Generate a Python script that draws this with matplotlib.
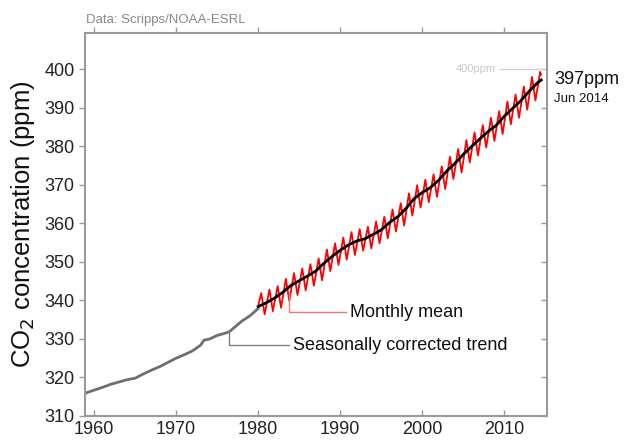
import numpy as np
import matplotlib
matplotlib.use("Agg")
import matplotlib.pyplot as plt

plt.rcParams["font.family"] = ["Liberation Sans", "DejaVu Sans"]

# seasonally corrected trend before monthly record is shown (grey)
early_years = [1958.9, 1960, 1961, 1962, 1963, 1964, 1965, 1966, 1967, 1968,
               1969, 1970, 1971, 1972, 1973, 1973.4, 1974, 1975, 1976, 1976.5,
               1977, 1978, 1979, 1980]
early_ppm = [315.9, 316.7, 317.4, 318.2, 318.8, 319.4, 319.8, 320.9, 321.9, 322.8,
             323.9, 325.0, 325.9, 326.9, 328.4, 329.7, 329.9, 330.9, 331.5, 331.9,
             332.8, 334.6, 336.0, 337.9]

# seasonally corrected trend 1980-2014 (black)
trend_years = [1980, 1981, 1982, 1983, 1984, 1985, 1986, 1987, 1988, 1989,
               1990, 1991, 1992, 1993, 1994, 1995, 1996, 1997, 1998, 1999,
               2000, 2001, 2002, 2003, 2004, 2005, 2006, 2007, 2008, 2009,
               2010, 2011, 2012, 2013, 2014, 2014.5]
trend_ppm = [338.4, 339.4, 340.6, 342.1, 343.9, 345.1, 346.3, 347.6, 349.6, 351.4,
             353.0, 354.4, 355.4, 356.0, 357.1, 358.3, 360.2, 361.7, 363.8, 366.4,
             368.0, 369.3, 371.2, 373.6, 375.6, 377.9, 379.9, 381.9, 383.8, 385.4,
             387.8, 389.8, 391.8, 394.2, 396.4, 397.2]

# monthly mean: yearly May maximum and October minimum (red)
cycle_years = np.arange(1980, 2014)
may_ppm = [341.9, 342.8, 343.7, 345.6, 347.1, 348.3, 349.4, 350.9, 353.2, 354.8,
           356.3, 357.7, 358.5, 359.1, 360.5, 361.7, 363.6, 365.2, 367.8, 369.9,
           371.3, 372.7, 374.8, 377.3, 379.3, 381.6, 383.6, 385.5, 387.4, 389.1,
           391.6, 393.4, 395.5, 398.0]
oct_ppm = [336.4, 337.2, 338.1, 339.9, 341.4, 342.6, 343.8, 345.2, 347.6, 349.2,
           350.6, 351.8, 352.9, 353.5, 354.8, 356.1, 357.9, 359.4, 362.0, 364.1,
           365.5, 366.9, 368.9, 371.5, 373.2, 375.8, 377.6, 379.7, 381.4, 383.2,
           385.7, 387.4, 389.5, 391.9]
first_month = (1980.04, 339.0)
last_peak = (2014.37, 399.3)
last_month = (2014.46, 398.6)

# build monthly mean path: Jan 1980, then May / Oct each year, then 2014
month_x = [first_month[0]]
month_y = [first_month[1]]
for yr, hi, lo in zip(cycle_years, may_ppm, oct_ppm):
    month_x += [yr + 4.5 / 12, yr + 9.5 / 12]
    month_y += [hi, lo]
month_x += [last_peak[0], last_month[0]]
month_y += [last_peak[1], last_month[1]]

fig = plt.figure(figsize=(6.27, 4.44), dpi=100)
ax = fig.add_axes([0.1356, 0.0631, 0.7368, 0.8626])

ax.plot(early_years, early_ppm, color="#6e6e6e", lw=2.0)
ax.plot(month_x, month_y, color="red", lw=1.3)
ax.plot(trend_years, trend_ppm, color="black", lw=2.0)

ax.set_xlim(1958.9, 2015.2)
ax.set_ylim(310, 409.4)
xt = [1960, 1970, 1980, 1990, 2000, 2010]
yt = np.arange(310, 401, 10)
ax.set_xticks(xt)
ax.set_yticks(yt)

for s in ax.spines.values():
    s.set_color("#9a9a9a")
    s.set_linewidth(1.5)
ax.tick_params(axis="both", labelsize=13, colors="#9a9a9a", labelcolor="#222222",
               length=4, width=1)
ax.tick_params(axis="y", direction="out")
ax.tick_params(axis="x", direction="in")

# right ticks point inwards, top ticks point outwards
right = ax.secondary_yaxis("right")
right.set_yticks(yt)
right.tick_params(direction="in", length=4, width=1, colors="#9a9a9a",
                  labelright=False)
right.spines["right"].set_visible(False)
top = ax.secondary_xaxis("top")
top.set_xticks(xt)
top.tick_params(direction="out", length=4, width=1, colors="#9a9a9a",
                labeltop=False)
top.spines["top"].set_visible(False)

ax.set_ylabel("CO$_2$ concentration (ppm)", fontsize=18.5, color="#111111",
              labelpad=5)

fig.text(0.137, 0.942, "Data: Scripps/NOAA-ESRL", fontsize=9.5, color="#888888",
         ha="left", va="bottom")

# annotations
ax.plot([1983.7, 1983.7, 1990.7], [341.9, 336.9, 336.9], color="#ff7070", lw=1)
ax.text(1991.2, 336.9, "Monthly mean", fontsize=13, va="center", color="#111111")
ax.plot([1976.5, 1976.5, 1983.7], [332.0, 328.3, 328.3], color="#808080", lw=1)
ax.text(1984.2, 328.3, "Seasonally corrected trend", fontsize=13, va="center",
        color="#111111")

ax.plot([2009.5, 2015.2], [400, 400], color="#d0d0d0", lw=1, clip_on=False)
ax.text(2009.0, 400, "400ppm", fontsize=8, color="#c8c8c8", ha="right",
        va="center")
ax.text(2016.1, 397.4, "397ppm", fontsize=13, color="#111111", ha="left",
        va="center", clip_on=False)
ax.text(2016.1, 392.2, "Jun 2014", fontsize=9.5, color="#111111", ha="left",
        va="center", clip_on=False)

fig.savefig("out.png", dpi=100)
